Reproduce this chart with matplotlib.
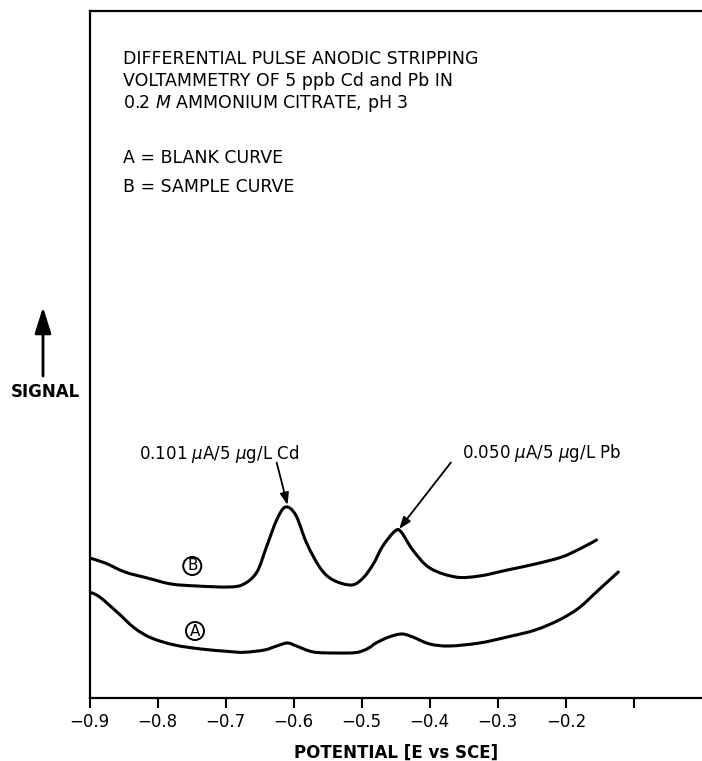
import matplotlib
matplotlib.use("Agg")
import matplotlib.pyplot as plt
from matplotlib.path import Path
from matplotlib.patches import PathPatch
import numpy as np

# 曲线数据 (电位 V vs SCE, 信号为任意单位)
# B = 样品曲线
pot_b = [-0.900, -0.877, -0.848, -0.815, -0.780, -0.742, -0.695, -0.673, -0.654,
         -0.640, -0.625, -0.612, -0.597, -0.581, -0.561, -0.542, -0.515, -0.498,
         -0.483, -0.469, -0.451, -0.442, -0.425, -0.400, -0.362, -0.327, -0.286,
         -0.245, -0.206, -0.177, -0.155]
sig_b = [1.395, 1.345, 1.255, 1.195, 1.135, 1.115, 1.105, 1.135, 1.255,
         1.505, 1.775, 1.905, 1.825, 1.545, 1.295, 1.175, 1.125, 1.195,
         1.335, 1.515, 1.665, 1.655, 1.475, 1.295, 1.205, 1.215, 1.275,
         1.335, 1.405, 1.495, 1.575]

# A = 空白曲线
pot_a = [-0.900, -0.885, -0.858, -0.834, -0.809, -0.775, -0.736, -0.695, -0.673,
         -0.643, -0.625, -0.609, -0.596, -0.571, -0.537, -0.508, -0.491, -0.479,
         -0.460, -0.441, -0.425, -0.400, -0.371, -0.327, -0.286, -0.245, -0.210,
         -0.181, -0.152, -0.123]
sig_a = [1.055, 1.005, 0.845, 0.695, 0.595, 0.525, 0.485, 0.460, 0.452,
         0.475, 0.515, 0.545, 0.515, 0.455, 0.445, 0.450, 0.490, 0.545,
         0.605, 0.635, 0.605, 0.535, 0.515, 0.545, 0.605, 0.675, 0.775,
         0.895, 1.075, 1.255]

# 坐标轴刻度
xticks = [-0.9, -0.8, -0.7, -0.6, -0.5, -0.4, -0.3, -0.2, -0.1]
xticklabels = ["\u22120.9", "\u22120.8", "\u22120.7", "\u22120.6", "\u22120.5",
               "\u22120.4", "\u22120.3", "\u22120.2", ""]

# 峰标注
cd_label = r"0.101 $\mu$A/5 $\mu$g/L Cd"
pb_label = r"0.050 $\mu$A/5 $\mu$g/L Pb"

header_lines = ["DIFFERENTIAL PULSE ANODIC STRIPPING",
                "VOLTAMMETRY OF 5 ppb Cd and Pb IN",
                r"0.2 $\mathit{M}$ AMMONIUM CITRATE, pH 3"]
legend_lines = ["A = BLANK CURVE", "B = SAMPLE CURVE"]

plt.rcParams['font.family'] = ['DejaVu Sans']
plt.rcParams['mathtext.fontset'] = 'dejavusans'


def smooth_path(xs, ys):
    # 用 Catmull-Rom 样条 (贝塞尔曲线) 平滑地连接各数据点, 曲线经过每个点
    pts = np.column_stack([xs, ys])
    verts = [pts[0]]
    codes = [Path.MOVETO]
    n = len(pts)
    for i in range(n - 1):
        p0 = pts[max(i - 1, 0)]
        p1 = pts[i]
        p2 = pts[i + 1]
        p3 = pts[min(i + 2, n - 1)]
        c1 = p1 + (p2 - p0) / 6.0
        c2 = p2 - (p3 - p1) / 6.0
        verts += [c1, c2, p2]
        codes += [Path.CURVE4] * 3
    return Path(verts, codes)


W, H = 702, 761
fig = plt.figure(figsize=(W / 100, H / 100), dpi=100)
ax = fig.add_axes([89.5 / W, 1 - 697.5 / H, 1 - 89.5 / W, (697.5 - 11) / H])

for xs, ys in [(pot_b, sig_b), (pot_a, sig_a)]:
    ax.add_patch(PathPatch(smooth_path(xs, ys), fill=False, ec='black', lw=2.2,
                           joinstyle='round', capstyle='round'))

ax.set_xlim(-0.9, 0.0)
ax.set_ylim(0, 6.865)
ax.set_xticks(xticks)
ax.set_xticklabels(xticklabels, fontsize=12)
ax.set_yticks([])
ax.tick_params(axis='x', direction='out', length=7, width=1.5, pad=4)
for s in ['left', 'bottom', 'top']:
    ax.spines[s].set_linewidth(1.6)
ax.spines['right'].set_visible(False)
ax.set_xlabel("POTENTIAL [E vs SCE]", fontsize=12, fontweight='bold', labelpad=9)

# 峰位置 (从数据中取最大值)
b = np.array(sig_b)
p = np.array(pot_b)
cd_i = np.argmax(np.where(p < -0.55, b, 0))
pb_i = np.argmax(np.where(p > -0.55, b, 0))

arrow_kw = dict(arrowstyle='-|>,head_length=0.6,head_width=0.22', color='black',
                lw=1.3, mutation_scale=12, shrinkA=0, shrinkB=0)
ax.annotate('', xy=(p[cd_i] + 0.003, b[cd_i] + 0.02), xytext=(-0.625, 2.35), arrowprops=arrow_kw)
ax.annotate('', xy=(p[pb_i] + 0.006, b[pb_i] + 0.02), xytext=(-0.369, 2.35), arrowprops=arrow_kw)
ax.text(-0.710, 2.435, cd_label, fontsize=12, ha='center', va='center')
ax.text(-0.235, 2.445, pb_label, fontsize=12, ha='center', va='center')

# 圆圈字母
circ = dict(boxstyle='circle,pad=0.1', fc='white', ec='black', lw=1.4)
ax.text(-0.749, 1.315, "B", fontsize=11, ha='center', va='center', bbox=circ)
ax.text(-0.745, 0.665, "A", fontsize=11, ha='center', va='center', bbox=circ)

# 标题文字
for line, y in zip(header_lines, [58.5, 81, 103]):
    fig.text(123 / W, 1 - y / H, line, fontsize=12.5, ha='left', va='center')
for line, y in zip(legend_lines, [158, 187]):
    fig.text(123 / W, 1 - y / H, line, fontsize=12.5, ha='left', va='center')

# SIGNAL 和箭头
fig.text(45 / W, 1 - 392 / H, "SIGNAL", fontsize=12, fontweight='bold', ha='center', va='center')
ax.annotate('', xy=(43 / W, 1 - 307 / H), xycoords='figure fraction',
            xytext=(43 / W, 1 - 376 / H), textcoords='figure fraction',
            arrowprops=dict(arrowstyle='-|>,head_length=0.8,head_width=0.25', color='black',
                            lw=2, mutation_scale=20, shrinkA=0, shrinkB=0))

plt.savefig('out.png', dpi=100)
